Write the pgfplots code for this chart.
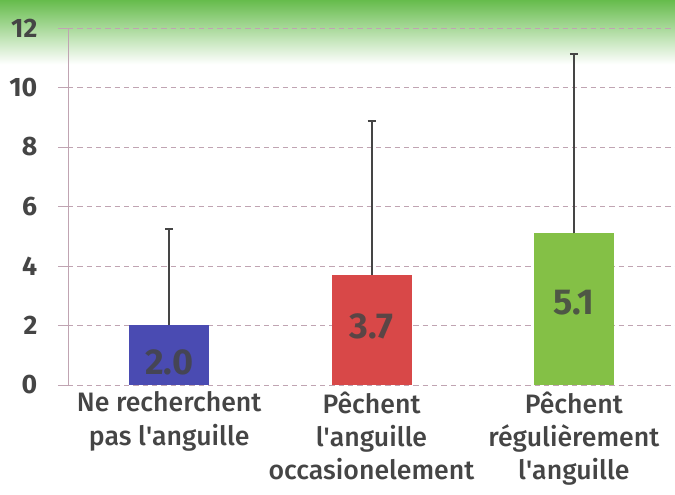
\documentclass[border=0pt]{standalone}
\usepackage{pgfplots}
\pgfplotsset{compat=1.18}
\usepackage{fontspec}
\setmainfont{Fira Sans}[UprightFont=* Medium, BoldFont=* Bold]
\definecolor{txt}{HTML}{454545}
\definecolor{gridc}{HTML}{C0A4B2}
\definecolor{cblue}{HTML}{4A4BB2}
\definecolor{cred}{HTML}{D84848}
\definecolor{cgreen}{HTML}{84C046}
\definecolor{gtop}{HTML}{66BC4C}
\begin{document}
\begin{tikzpicture}
\useasboundingbox (0,0) rectangle (506.25pt,371.25pt);
\shade[top color=gtop, bottom color=white] (0,323pt) rectangle (506.25pt,371.25pt);
\begin{axis}[
  at={(51pt,82.5pt)}, anchor=south west,
  scale only axis, width=455.25pt, height=267.75pt,
  xmin=-0.5, xmax=2.5, ymin=0, ymax=12,
  axis line style={draw=none},
  axis x line*=bottom, axis y line*=left,
  ytick={0,2,...,12},
  ymajorgrids, grid style={gridc, dash pattern=on 4pt off 3pt, line width=0.6pt},
  xtick={0,1,2},
  xticklabels={{Ne recherchent\\pas l\textquotesingle anguille},{Pêchent\\l\textquotesingle anguille\\occasionelement},{Pêchent\\régulièrement\\l\textquotesingle anguille}},
  xticklabel style={align=center, font=\fontsize{20}{25}\selectfont, text=txt, anchor=north, yshift=6pt},
  x tick style={draw=none},
  y tick style={gridc, line width=0.6pt},
  tick align=outside, major tick length=7.5pt,
  /pgf/number format/assume math mode=true,
  yticklabel style={font=\fontsize{20}{22}\selectfont\bfseries, text=txt, xshift=-12pt},
  ybar, bar width=60pt,
  clip=false,
]
\draw[gridc, line width=0.6pt] (axis cs:-0.5,0) -- (axis cs:-0.5,12);
\addplot[fill=cblue, draw=none, bar shift=0pt,
  error bars/.cd, y dir=plus, y explicit,
  error bar style={line width=1.5pt, color=txt},
  error mark options={rotate=90, mark size=3pt, line width=1.5pt, color=txt}]
  coordinates {(0,2.0) +- (0,3.25)};
\addplot[fill=cred, draw=none, bar shift=0pt,
  error bars/.cd, y dir=plus, y explicit,
  error bar style={line width=1.5pt, color=txt},
  error mark options={rotate=90, mark size=3pt, line width=1.5pt, color=txt}]
  coordinates {(1,3.7) +- (0,5.17)};
\addplot[fill=cgreen, draw=none, bar shift=0pt,
  error bars/.cd, y dir=plus, y explicit,
  error bar style={line width=1.5pt, color=txt},
  error mark options={rotate=90, mark size=3pt, line width=1.5pt, color=txt}]
  coordinates {(2,5.1) +- (0,6.03)};
\node[font=\fontsize{27}{28}\selectfont\bfseries, text=txt, opacity=0.85] at (axis cs:0,0.75) {2.0};
\node[font=\fontsize{27}{28}\selectfont\bfseries, text=txt, opacity=0.85] at (axis cs:1,1.98) {3.7};
\node[font=\fontsize{27}{28}\selectfont\bfseries, text=txt, opacity=0.85] at (axis cs:2,2.76) {5.1};
\end{axis}
\end{tikzpicture}
\end{document}
